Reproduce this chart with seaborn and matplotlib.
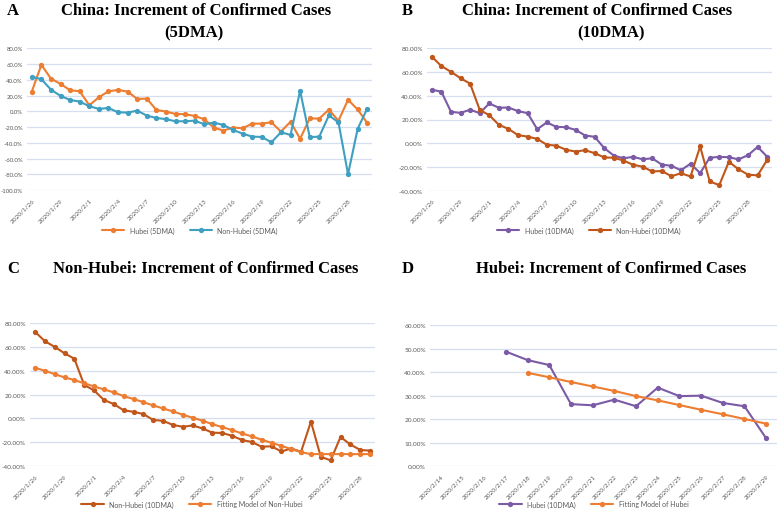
import numpy as np
import matplotlib
matplotlib.use('Agg')
import matplotlib.pyplot as plt
import seaborn as sns
from matplotlib.lines import Line2D
from matplotlib.ticker import FuncFormatter

# categories
dates_full = ([f'2020/1/{d}' for d in range(26, 32)]
              + [f'2020/2/{d}' for d in range(1, 30)] + ['2020/3/1'])
dates_c = dates_full[:35]
dates_d = [f'2020/2/{d}' for d in range(14, 30)]

# panel A (5DMA)
hubei_5dma = [25, 59, 41.5, 34.7, 26.7, 25.4, 7.6, 17.8, 25.4, 27.1, 25, 15.7,
              16.1, 1.7, -0.4, -3.4, -3.8, -5.9, -10.2, -20.7, -24.5, -20.7,
              -21.6, -15.7, -15.7, -14, -25.8, -13.3, -35, -9, -9.3, 2.1, -12,
              14.6, 2.3, -14.8]
nonhubei_5dma = [44, 40.7, 27.5, 19.5, 14.4, 12.3, 6.4, 3, 4.2, -1.3, -1.7, 0.8,
                 -5.5, -8.5, -10, -12.7, -12.7, -11.9, -16.5, -14.4, -17.4,
                 -23.7, -28.4, -32.2, -32.6, -39.4, -26.7, -30, 26, -32.8,
                 -32.2, -5.3, -14, -80, -22.4, 3.4]

# panel B (10DMA)
hubei_10dma = [45.1, 43.4, 26.5, 25.6, 28.2, 25.4, 33.5, 29.9, 30.1, 27, 25.4,
               11.8, 17.5, 13.8, 13.5, 11.3, 6.5, 5.4, -4.2, -10.4, -12.7,
               -11.5, -13.5, -12.7, -18, -19, -22.8, -17.2, -25.2, -12.2,
               -11.5, -11.8, -13.6, -10.1, -3.1, -11.4]
nonhubei_10dma = [73, 65, 60.2, 54.8, 50.2, 28.1, 23.6, 15.5, 12.1, 6.8, 5.6,
                  3.7, -1.3, -2, -5.5, -7, -5.9, -8.4, -12, -12.2, -14.6, -18.1,
                  -19.8, -23.8, -23.4, -27.8, -25.3, -28, -2.7, -32.2, -35.3,
                  -15.6, -21.9, -26.5, -27.1, -14]

# panel C
nonhubei_c = nonhubei_10dma[:35]
fit_nonhubei = [42.6, 40.1, 37.3, 34.5, 32.3, 29.5, 26.9, 24.4, 21.9, 18.8,
                16.3, 13.7, 10.9, 8.4, 5.9, 3.1, 0.6, -1.9, -4.8, -7.3, -9.8,
                -12.6, -15.1, -17.9, -20.5, -23.0, -25.8, -28.4, -30, -30, -30,
                -30, -30, -30, -30]

# panel D
hubei_d_dates = dates_d[3:]
hubei_d = [48.7, 45.1, 43, 26.4, 25.9, 28.3, 25.5, 33.4, 29.8, 30, 26.9, 25.5, 11.9]
fit_hubei_dates = dates_d[4:]
fit_hubei = [39.7, 37.8, 35.8, 33.9, 32, 29.8, 28, 26, 24, 22.1, 20.1, 18.1]

ORANGE = '#ED7D31'
BLUE = '#3E9FC1'
PURPLE = '#7B5AA6'
BROWN = '#C0561A'
GRID = '#D6DFEF'
TICK = '#595959'

W, H = 778, 510

sns.set_style('white')
plt.rcParams['font.family'] = ['Lato', 'DejaVu Sans']

fig = plt.figure(figsize=(W / 100, H / 100), dpi=100)


def px_axes(l, t, r, b):
    return fig.add_axes([l / W, 1 - b / H, (r - l) / W, (b - t) / H])


def panel(rect, cats, series, ylim, ystep, fmt, tick_step, legend_xy, ysize=4.6):
    ax = px_axes(*rect)
    handles = []
    for xs, ys, color, label in series:
        pos = [cats.index(d) for d in xs]
        sns.lineplot(x=pos, y=ys, ax=ax, color=color, marker='o',
                     markersize=3.8, markeredgewidth=0, linewidth=1.5)
        handles.append(Line2D([], [], color=color, marker='o', markersize=3.8,
                              markeredgewidth=0, linewidth=1.5, label=label))
    n = len(cats)
    ax.set_xlim(-0.5, n - 0.5)
    ax.set_ylim(*ylim)
    ax.set_yticks(np.arange(ylim[0], ylim[1] + 0.1, ystep))
    ax.yaxis.set_major_formatter(FuncFormatter(lambda v, p: fmt.format(v)))
    ticks = list(range(0, n, tick_step))
    ax.set_xticks(ticks)
    ax.set_xticklabels([cats[i] for i in ticks], rotation=45, ha='right',
                       rotation_mode='anchor')
    ax.tick_params(axis='both', length=0, labelsize=4.6, colors=TICK)
    ax.tick_params(axis='y', labelsize=ysize, pad=3)
    ax.tick_params(axis='x', pad=5)
    ax.yaxis.grid(True, color=GRID, linewidth=0.9)
    ax.set_axisbelow(True)
    for s in ax.spines.values():
        s.set_visible(False)
    ax.set_xlabel('')
    ax.set_ylabel('')
    fig.legend(handles=handles, loc='center',
               bbox_to_anchor=(legend_xy[0] / W, 1 - legend_xy[1] / H),
               ncol=len(handles), frameon=False, fontsize=5,
               handlelength=3.2, columnspacing=2.2, labelcolor=TICK)
    return ax


panel((27, 49.3, 372, 191), dates_full,
      [(dates_full, hubei_5dma, ORANGE, 'Hubei (5DMA)'),
       (dates_full, nonhubei_5dma, BLUE, 'Non-Hubei (5DMA)')],
      (-100, 80), 20, '{:.1f}%', 3, (190, 231), ysize=4.3)

panel((427, 49.3, 772, 191.7), dates_full,
      [(dates_full, hubei_10dma, PURPLE, 'Hubei (10DMA)'),
       (dates_full, nonhubei_10dma, BROWN, 'Non-Hubei (10DMA)')],
      (-40, 80), 20, '{:.2f}%', 3, (589, 231))

panel((30, 324.3, 375, 467), dates_c,
      [(dates_c, nonhubei_c, BROWN, 'Non-Hubei (10DMA)'),
       (dates_c, fit_nonhubei, ORANGE, 'Fitting Model of Non-Hubei')],
      (-40, 80), 20, '{:.2f}%', 3, (192, 505))

panel((430, 326, 777, 467.3), dates_d,
      [(hubei_d_dates, hubei_d, PURPLE, 'Hubei (10DMA)'),
       (fit_hubei_dates, fit_hubei, ORANGE, 'Fitting Model of Hubei')],
      (0, 60), 10, '{:.2f}%', 1, (594, 505))

title_font = dict(family=['Liberation Serif', 'DejaVu Serif'], weight='bold',
                  fontsize=12, color='black', va='center')


def ftext(x, y, s, ha='center'):
    fig.text(x / W, 1 - y / H, s, ha=ha, **title_font)


ftext(7, 11, 'A', ha='left')
ftext(196, 11, 'China: Increment of Confirmed Cases')
ftext(194, 33, '(5DMA)')
ftext(402, 11, 'B', ha='left')
ftext(597, 11, 'China: Increment of Confirmed Cases')
ftext(611, 33, '(10DMA)')
ftext(7, 269, 'C', ha='left')
ftext(206, 269, 'Non-Hubei: Increment of Confirmed Cases')
ftext(402, 269, 'D', ha='left')
ftext(611, 269, 'Hubei: Increment of Confirmed Cases')

fig.savefig('out.png', dpi=100)
